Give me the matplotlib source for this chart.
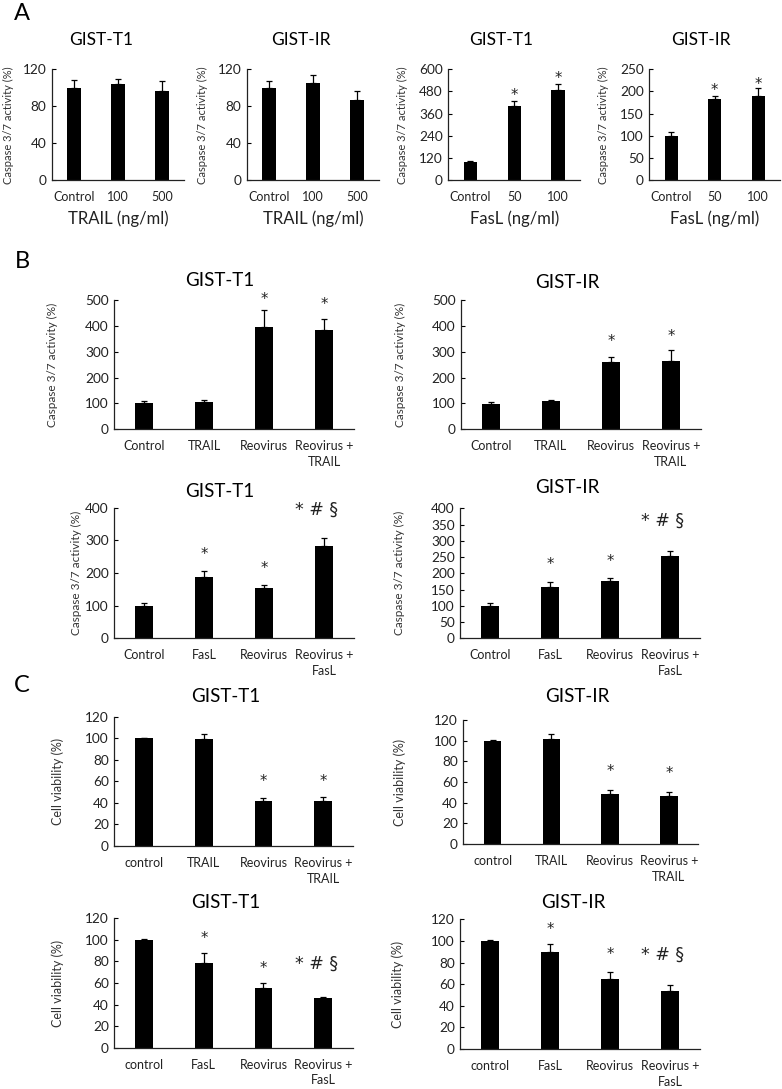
import matplotlib
matplotlib.use('Agg')
import matplotlib.pyplot as plt
import numpy as np

plt.rcParams['font.family'] = ['Lato', 'DejaVu Sans']

W, H = 782, 1089

# ---- data ----
a_trail_labels = ['Control', '100', '500']
a_fasl_labels = ['Control', '50', '100']
a_t1_trail = [100, 104, 96.5]
a_t1_trail_err = [8, 6, 11]
a_ir_trail = [100, 105, 87]
a_ir_trail_err = [7, 9, 9]
a_t1_fasl = [98, 402, 486]
a_t1_fasl_err = [9, 28, 32]
a_ir_fasl = [100, 183, 189]
a_ir_fasl_err = [8, 7, 18]

b_trail_labels = ['Control', 'TRAIL', 'Reovirus', 'Reovirus +\nTRAIL']
b_fasl_labels = ['Control', 'FasL', 'Reovirus', 'Reovirus +\nFasL']
b_t1_trail = [100, 104, 394, 383]
b_t1_trail_err = [10, 8, 67, 43]
b_ir_trail = [99, 109, 260, 263]
b_ir_trail_err = [6, 6, 21, 42]
b_t1_fasl = [100, 187, 155, 284]
b_t1_fasl_err = [7, 19, 9, 22]
b_ir_fasl = [100, 157, 177, 254]
b_ir_fasl_err = [9, 17, 8, 16]

c_trail_labels = ['control', 'TRAIL', 'Reovirus', 'Reovirus +\nTRAIL']
c_fasl_labels = ['control', 'FasL', 'Reovirus', 'Reovirus +\nFasL']
c_t1_trail = [100, 99, 42, 42]
c_t1_trail_err = [0.5, 4.5, 3, 3.5]
c_ir_trail = [100, 102, 48.5, 46]
c_ir_trail_err = [0.4, 4.5, 4, 4.5]
c_t1_fasl = [100, 79, 55, 46]
c_t1_fasl_err = [0.5, 9, 5, 1]
c_ir_fasl = [100, 90, 64.5, 54]
c_ir_fasl_err = [0.4, 7.5, 6.5, 5]

# significance marks: (bar index, text, y value)
a_t1_fasl_marks = [(1, '*', 478), (2, '*', 573)]
a_ir_fasl_marks = [(1, '*', 212), (2, '*', 225)]
b_t1_trail_marks = [(2, '*', 519), (3, '*', 497)]
b_ir_trail_marks = [(2, '*', 356), (3, '*', 376)]
b_t1_fasl_marks = [(1, '*', 270), (2, '*', 227), (3, '* # §', 395)]
b_ir_fasl_marks = [(1, '*', 239), (2, '*', 249), (3, '* # §', 361)]
c_t1_trail_marks = [(2, '*', 64), (3, '*', 64)]
c_ir_trail_marks = [(2, '*', 74), (3, '*', 72)]
c_t1_fasl_marks = [(1, '*', 105.5), (2, '*', 77), (3, '* # §', 77.6)]
c_ir_fasl_marks = [(1, '*', 114), (2, '*', 91), (3, '* # §', 87.3)]

CASP = 'Caspase 3/7 activity (%)'
VIAB = 'Cell viability (%)'
TXT = '#222222'

fig = plt.figure(figsize=(W / 100, H / 100), dpi=100)


def fx(px):
    return px / W


def fy(py):
    return 1 - py / H


def bar_panel(box, labels, vals, errs, ymax, ystep, title, title_xy, ylabel, ylabel_x,
              marks=(), xlabel=None, tick_fs=9, title_fs=13.5, ylabel_fs=8, bw=0.3, cap=2.2):
    left, top, right, bottom = box
    ax = fig.add_axes([fx(left), fy(bottom), (right - left) / W, (bottom - top) / H])
    x = np.arange(len(vals))
    ax.bar(x, vals, width=bw, color='black', zorder=2)
    ax.errorbar(x, vals, yerr=[np.zeros(len(errs)), errs], fmt='none', ecolor='black',
                elinewidth=0.9, capsize=cap, capthick=0.9, zorder=3)
    ax.set_xlim(-0.5, len(vals) - 0.5)
    ax.set_ylim(0, ymax)
    ax.set_yticks(np.arange(0, ymax + 1, ystep))
    ax.set_xticks(x)
    ax.set_xticklabels(labels, fontsize=tick_fs, linespacing=1.35, color=TXT)
    ax.tick_params(axis='x', length=0, pad=8)
    ax.tick_params(axis='y', direction='in', length=3, width=0.8, labelsize=tick_fs + 0.8,
                   labelcolor=TXT, pad=4)
    for s in ['top', 'right']:
        ax.spines[s].set_visible(False)
    for s in ['left', 'bottom']:
        ax.spines[s].set_color('#222222')
        ax.spines[s].set_linewidth(0.9)
    for i, txt, yv in marks:
        if txt == '*':
            # single asterisk: place its glyph centre on the read value
            ax.annotate(txt, (i, yv), xytext=(0, -6.2), textcoords='offset points',
                        ha='center', va='baseline', fontsize=10.5, family='DejaVu Sans',
                        color=TXT, annotation_clip=False)
        else:
            ax.text(i - 0.12, yv, txt, ha='center', va='center', fontsize=12.5,
                    family='DejaVu Sans', color=TXT, clip_on=False)
    fig.text(fx(title_xy[0]), fy(title_xy[1]), title, ha='center', va='center',
             fontsize=title_fs, color='black')
    fig.text(fx(ylabel_x), fy((top + bottom) / 2), ylabel, rotation=90, ha='center',
             va='center', fontsize=ylabel_fs, color='#333333')
    if xlabel is not None:
        fig.text(fx((left + right) / 2), fy(219), xlabel, ha='center', va='center',
                 fontsize=12, color=TXT)
    return ax


# ---- A ----
bar_panel((52, 69.3, 184, 180.3), a_trail_labels, a_t1_trail, a_t1_trail_err, 120, 40,
          'GIST-T1', (101, 40), CASP, 8, xlabel='TRAIL (ng/ml)', title_fs=12.5)
bar_panel((247, 69.3, 379, 180.3), a_trail_labels, a_ir_trail, a_ir_trail_err, 120, 40,
          'GIST-IR', (301, 40), CASP, 202, xlabel='TRAIL (ng/ml)', title_fs=12.5)
bar_panel((448.3, 69.3, 580, 180.3), a_fasl_labels, a_t1_fasl, a_t1_fasl_err, 600, 120,
          'GIST-T1', (501, 40), CASP, 402, marks=a_t1_fasl_marks, xlabel='FasL (ng/ml)',
          title_fs=12.5)
bar_panel((649.3, 69.3, 780, 180.3), a_fasl_labels, a_ir_fasl, a_ir_fasl_err, 250, 50,
          'GIST-IR', (701, 40), CASP, 603, marks=a_ir_fasl_marks, xlabel='FasL (ng/ml)',
          title_fs=12.5)

# ---- B ----
bar_panel((114.3, 300, 354, 429.3), b_trail_labels, b_t1_trail, b_t1_trail_err, 500, 100,
          'GIST-T1', (220, 281), CASP, 52, marks=b_t1_trail_marks, ylabel_fs=8.5)
bar_panel((461, 300, 701, 429.3), b_trail_labels, b_ir_trail, b_ir_trail_err, 500, 100,
          'GIST-IR', (567, 282), CASP, 400, marks=b_ir_trail_marks, ylabel_fs=8.5)
bar_panel((114.3, 507.7, 354, 638.3), b_fasl_labels, b_t1_fasl, b_t1_fasl_err, 400, 100,
          'GIST-T1', (220, 491), CASP, 76, marks=b_t1_fasl_marks, ylabel_fs=8.5)
bar_panel((460.3, 508.3, 700, 638.3), b_fasl_labels, b_ir_fasl, b_ir_fasl_err, 400, 50,
          'GIST-IR', (567, 488), CASP, 399, marks=b_ir_fasl_marks, ylabel_fs=8.5)

# ---- C ----
bar_panel((114.3, 716.7, 353, 846), c_trail_labels, c_t1_trail, c_t1_trail_err, 120, 20,
          'GIST-T1', (226, 697), VIAB, 58, marks=c_t1_trail_marks, ylabel_fs=9)
bar_panel((463.3, 720, 698.3, 844), c_trail_labels, c_ir_trail, c_ir_trail_err, 120, 20,
          'GIST-IR', (577, 696), VIAB, 400, marks=c_ir_trail_marks, ylabel_fs=9)
bar_panel((114.3, 918.3, 353, 1047.7), c_fasl_labels, c_t1_fasl, c_t1_fasl_err, 120, 20,
          'GIST-T1', (226, 903), VIAB, 58, marks=c_t1_fasl_marks, ylabel_fs=9)
bar_panel((460.3, 919.3, 700, 1049), c_fasl_labels, c_ir_fasl, c_ir_fasl_err, 120, 20,
          'GIST-IR', (573, 902), VIAB, 398, marks=c_ir_fasl_marks, ylabel_fs=9)

# panel letters
for letter, (lx, ly) in zip('ABC', [(22, 14), (22, 262), (22, 686)]):
    fig.text(fx(lx), fy(ly), letter, ha='center', va='center', fontsize=17, color='black')

fig.savefig('out.png', dpi=100)
